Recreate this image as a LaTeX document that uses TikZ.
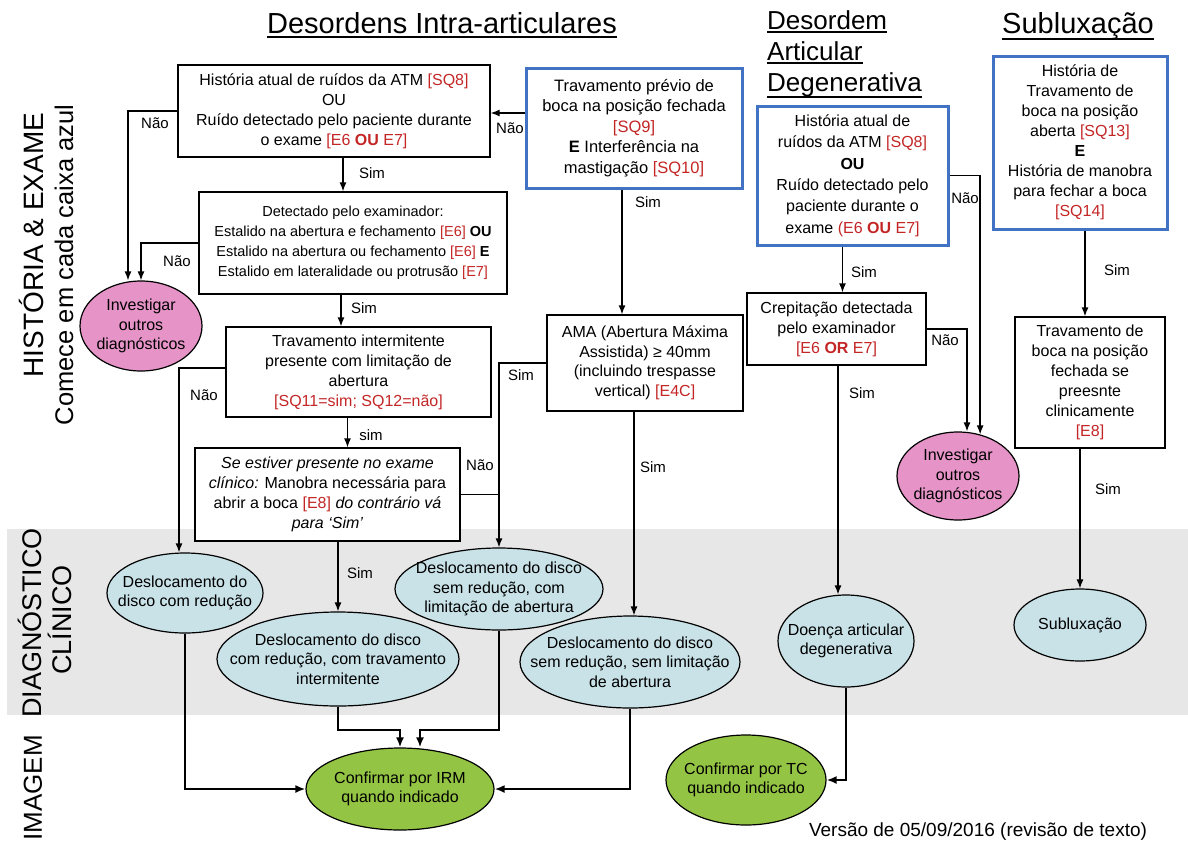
\documentclass[tikz,border=0pt]{standalone}
\usepackage{fontspec}
\setmainfont{Liberation Sans}
\usetikzlibrary{arrows.meta,shapes.geometric}
\definecolor{qred}{RGB}{196,38,38}
\definecolor{qblue}{RGB}{66,114,196}
\definecolor{qpink}{RGB}{230,148,200}
\definecolor{qlblue}{RGB}{200,226,232}
\definecolor{qgreen}{RGB}{148,196,68}
\definecolor{qgray}{RGB}{231,231,231}
\newcommand{\myfs}[2]{\fontsize{#1}{#2}\selectfont}
\newcommand{\rd}[1]{\textcolor{qred}{#1}}
\begin{document}
\begin{tikzpicture}[x=1pt,y=-1pt,
  box/.style={draw, line width=1.3pt, fill=white, align=center, inner sep=0pt, font=\myfs{16}{20}},
  bbox/.style={box, draw=qblue, line width=3pt},
  ell/.style={ellipse, draw, line width=1.2pt, inner sep=0pt},
  etxt/.style={align=center, inner sep=0pt, font=\myfs{16}{19.5}},
  arr/.style={draw, line width=1.3pt, -{Latex[length=9pt,width=7pt]}},
  arrt/.style={draw, line width=2.4pt, -{Latex[length=10pt,width=8pt]}},
  lbl/.style={inner sep=0pt, font=\myfs{15}{18}},
  hdr/.style={inner sep=0pt},
  side/.style={inner sep=0pt, rotate=90}]

\useasboundingbox (0,0) rectangle (1188,846);
\fill[qgray] (7,529) rectangle (1188,715);

% headers
\node[hdr, anchor=base, font=\myfs{29}{34}] (H1) at (442,33) {Desordens Intra-articulares};
\draw[line width=1.6pt] ([yshift=-4pt]H1.base west) -- ([yshift=-4pt]H1.base east);
\node[hdr, anchor=base west, font=\myfs{26}{30}] (H2a) at (767,29) {Desordem};
\node[hdr, anchor=base west, font=\myfs{26}{30}] (H2b) at (767,60) {Articular};
\node[hdr, anchor=base west, font=\myfs{26}{30}] (H2c) at (767,91) {Degenerativa};
\draw[line width=1.5pt] ([yshift=-3pt]H2a.base west) -- ([yshift=-3pt]H2a.base east);
\draw[line width=1.5pt] ([yshift=-3pt]H2b.base west) -- ([yshift=-3pt]H2b.base east);
\draw[line width=1.5pt] ([yshift=-6pt]H2c.base west) -- ([yshift=-6pt]H2c.base east);
\node[hdr, anchor=base, font=\myfs{29}{34}] (H3) at (1078,33) {Subluxação};
\draw[line width=1.6pt] ([yshift=-6pt]H3.base west) -- ([yshift=-6pt]H3.base east);

% side labels
\node[side, font=\myfs{28}{32}] (L1) at (31,245) {HISTÓRIA \& EXAME};
\node[side, font=\myfs{25.5}{30}] (L2) at (64,265) {Comece em cada caixa azul};
\node[side, font=\myfs{27}{32}] (L3) at (30,623) {DIAGNÓSTICO};
\node[side, font=\myfs{27}{32}] (L4) at (60,620) {CLÍNICO};
\node[side, font=\myfs{26}{30}] (L5) at (33,788) {IMAGEM};

% boxes
\node[box, minimum width=312, minimum height=92] (B1) at (334,111) {História atual de ruídos da ATM \rd{[SQ8]}\\OU\\Ruído detectado pelo paciente durante\\o exame \rd{[E6 \textbf{OU} E7]}};
\node[box, font=\myfs{14.5}{20}, minimum width=308, minimum height=102] (B2) at (353,243) {Detectado pelo examinador:\\Estalido na abertura e fechamento \rd{[E6]} \textbf{OU}\\Estalido na abertura ou fechamento \rd{[E6]} \textbf{E}\\Estalido em lateralidade ou protrusão \rd{[E7]}};
\node[bbox, font=\myfs{16.5}{20.5}, minimum width=216, minimum height=120] (B3) at (634,128) {Travamento prévio de\\boca na posição fechada\\\rd{[SQ9]}\\\textbf{E} Interferência na\\mastigação \rd{[SQ10]}};
\node[bbox, font=\myfs{16}{21.4}, minimum width=191, minimum height=139] (B4) at (852.5,175.5) {História atual de\\ruídos da ATM \rd{[SQ8]}\\\textbf{OU}\\Ruído detectado pelo\\paciente durante o\\exame \rd{(E6 \textbf{OU} E7]}};
\node[bbox, minimum width=174, minimum height=173] (B5) at (1080,142.5) {História de\\Travamento de\\boca na posição\\aberta \rd{[SQ13]}\\\textbf{E}\\História de manobra\\para fechar a boca\\\rd{[SQ14]}};
\node[box, minimum width=265, minimum height=90] (B6) at (358.5,372) {Travamento intermitente\\presente com limitação de\\abertura\\\rd{[SQ11=sim; SQ12=não]}};
\node[box, minimum width=265, minimum height=93] (B7) at (327.5,494.5) {\textit{Se estiver presente no exame}\\\textit{clínico:} Manobra necessária para\\abrir a boca \rd{[E8]} \textit{do contrário vá}\\\textit{para ‘Sim’}};
\node[box, font=\myfs{16}{19.5}, minimum width=196, minimum height=96] (B8) at (645,363) {AMA (Abertura Máxima\\Assistida) ≥ 40mm\\(incluindo trespasse\\vertical) \rd{[E4C]}};
\node[box, minimum width=179, minimum height=72] (B9) at (836.5,329) {Crepitação detectada\\pelo examinador\\\rd{[E6 \textbf{OR} E7]}};
\node[box, minimum width=150, minimum height=131] (B10) at (1090,382.5) {Travamento de\\boca na posição\\fechada se\\preesnte\\clinicamente\\\rd{[E8]}};

% ellipses
\node[ell, fill=qpink, minimum width=122, minimum height=90, label={[etxt]center:{Investigar\\outros\\diagnósticos}}] (I1) at (141,326) {};
\node[ell, fill=qpink, minimum width=122, minimum height=88, label={[etxt]center:{Investigar\\outros\\diagnósticos}}] (I2) at (958,476) {};
\node[ell, fill=qlblue, minimum width=156, minimum height=80, label={[etxt]center:{Deslocamento do\\disco com redução}}] (E1) at (185,593) {};
\node[ell, fill=qlblue, minimum width=242, minimum height=94, label={[etxt]center:{Deslocamento do disco\\com redução, com travamento\\intermitente}}] (E2) at (338,659) {};
\node[ell, fill=qlblue, minimum width=208, minimum height=82, label={[etxt]center:{Deslocamento do disco\\sem redução, com\\limitação de abertura}}] (E3) at (499,589) {};
\node[ell, fill=qlblue, minimum width=220, minimum height=92, label={[etxt]center:{Deslocamento do disco\\sem redução, sem limitação\\de abertura}}] (E4) at (630,662) {};
\node[ell, fill=qlblue, minimum width=136, minimum height=92, label={[etxt]center:{Doença articular\\degenerativa}}] (E6) at (846,641) {};
\node[ell, fill=qlblue, minimum width=132, minimum height=72, label={[etxt]center:{Subluxação}}] (E7) at (1080,625) {};
\node[ell, fill=qgreen, minimum width=188, minimum height=82, label={[etxt]center:{Confirmar por IRM\\quando indicado}}] (IRM) at (400,789) {};
\node[ell, fill=qgreen, minimum width=160, minimum height=90, label={[etxt]center:{Confirmar por TC\\quando indicado}}] (TC) at (746,780) {};

% connectors
\draw[arr] ([yshift=15pt]B3.west) -- ([yshift=15pt]B3.west -| B1.east);
\draw[arr] (B1.west) -| ([xshift=-13pt]I1.north);
\draw[arr] (B2.west) -| (I1.north);
\draw[arr] ([xshift=9pt]B1.south) -- ([xshift=9pt]B1.south |- B2.north);
\draw[arr] ([xshift=-12pt]B2.south) -- ([xshift=-12pt]B2.south |- B6.north);
\draw[arr] ([yshift=4pt]B6.west) -| ([xshift=-6pt]E1.north);
\draw[arr] ([xshift=-11pt]B6.south) -- ([xshift=-11pt]B6.south |- B7.north);
\draw[arr] (E2.north |- B7.south) -- (E2.north);
\draw[arr] (B8.west) -| (E3.north);
\draw[line width=1.3pt] (B7.east) -- (B7.east -| E3.north);
\draw[arr] ([xshift=-12pt]B3.south) -- ([xshift=-12pt]B3.south |- B8.north);
\draw[arr] ([xshift=4pt]E4.north |- B8.south) -- ([xshift=4pt]E4.north);
\draw[arr] ([xshift=-10pt]B4.south) -- ([xshift=-10pt]B4.south |- B9.north);
\draw[arr] (B4.east) -| (I2.62);
\draw[arr] (B9.east) -| ([xshift=9pt]I2.north);
\draw[arr] ([xshift=-8pt]E6.north |- B9.south) -- ([xshift=-8pt]E6.north);
\draw[arr] ([xshift=5pt]B5.south) -- ([xshift=5pt]B5.south |- B10.north);
\draw[arr] (E7.north |- B10.south) -- (E7.north);
\draw[arrt] (E1.south) |- (IRM.west);
\draw[arrt] (E2.south) -- (E2.south |- 0,730) -| (IRM.north);
\draw[arrt] (E3.south) -- (E3.south |- 0,730) -| ([xshift=20pt]IRM.north);
\draw[arrt] (E4.south) |- (IRM.east);
\draw[arrt] (E6.south) |- (TC.east);

% connector labels
\node[lbl] (n1) at (155,123) {Não};
\node[lbl] (n2) at (510,128) {Não};
\node[lbl] (s1) at (372,173) {Sim};
\node[lbl] (n3) at (177,261) {Não};
\node[lbl] (s2) at (364,308) {Sim};
\node[lbl] (n4) at (204,395) {Não};
\node[lbl] (s3) at (371,435) {sim};
\node[lbl] (n5) at (480,465) {Não};
\node[lbl] (s4) at (521,375) {Sim};
\node[lbl] (s5) at (648,202) {Sim};
\node[lbl] (s6) at (653,467) {Sim};
\node[lbl] (s7) at (360,573) {Sim};
\node[lbl] (s8) at (864,272) {Sim};
\node[lbl] (n6) at (965,198) {Não};
\node[lbl] (n7) at (945,340) {Não};
\node[lbl] (s9) at (862,393) {Sim};
\node[lbl] (s10) at (1117,270) {Sim};
\node[lbl] (s11) at (1108,489) {Sim};

\node[inner sep=0pt, font=\myfs{19}{22}] (V) at (978,832) {Versão de 05/09/2016 (revisão de texto)};
\end{tikzpicture}
\end{document}
